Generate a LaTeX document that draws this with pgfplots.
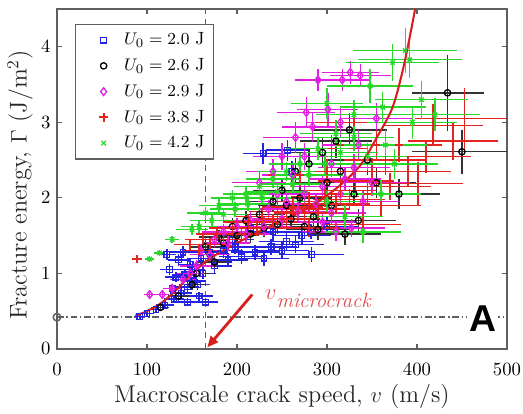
\documentclass[border=0pt]{standalone}
\usepackage{fontspec}
\usepackage{pgfplots}
\usepackage{pgfplotstable}
\pgfplotsset{compat=1.18}
\usetikzlibrary{arrows.meta}
\newfontfamily\arialf{Liberation Sans}
\definecolor{cblue}{RGB}{35,35,225}
\definecolor{cmag}{RGB}{225,30,225}
\definecolor{plusred}{RGB}{230,35,35}
\definecolor{cgreen}{RGB}{40,215,40}
\definecolor{cax}{RGB}{95,95,95}
\definecolor{ccurve}{RGB}{215,30,30}

\pgfplotstableread{
x y ex ey
92 0.43 6 0.03
100 0.47 8 0.04
110 0.52 9 0.04
120 0.58 10 0.05
130 0.66 11 0.05
138 0.74 12 0.06
145 0.82 13 0.06
152 0.90 14 0.07
158 0.70 15 0.06
165 0.62 14 0.05
132 0.95 12 0.07
125 1.05 11 0.07
122 1.25 10 0.07
135 1.18 12 0.08
148 1.12 14 0.08
160 1.20 16 0.08
175 1.10 20 0.09
190 1.18 22 0.09
205 1.22 25 0.10
220 1.28 27 0.10
238 1.35 29 0.11
255 1.42 31 0.11
272 1.50 33 0.12
282 1.55 33 0.10
283 1.25 36 0.10
300 1.62 36 0.12
215 1.60 26 0.12
229 2.59 22 0.14
256 2.63 24 0.14
261 2.35 28 0.14
128 0.80 10 0.06
142 0.98 12 0.07
150 1.05 14 0.08
156 0.85 14 0.07
162 1.00 15 0.08
145 0.62 12 0.05
170 1.28 20 0.09
185 1.30 22 0.10
198 1.35 24 0.10
230 1.20 28 0.10
250 1.30 30 0.11
265 1.38 32 0.11
140 1.28 14 0.08
195 1.45 24 0.11
240 1.55 30 0.12
}\tblue

\pgfplotstableread{
x y ex ey
115 0.55 10 0.05
135 0.70 12 0.06
155 1.00 15 0.08
170 1.25 20 0.10
185 1.40 22 0.10
200 1.50 24 0.12
215 1.52 26 0.12
230 1.60 28 0.12
245 1.65 30 0.13
260 1.72 32 0.13
275 1.62 34 0.13
290 1.58 36 0.14
305 1.90 38 0.15
320 1.52 40 0.14
335 1.70 42 0.15
250 2.10 32 0.15
265 2.35 34 0.18
280 2.45 36 0.20
295 2.60 38 0.20
310 2.75 40 0.22
325 2.90 42 0.22
345 2.50 44 0.20
450 2.61 55 0.29
434 3.39 40 0.50
380 2.05 46 0.20
355 2.20 44 0.20
240 1.95 30 0.14
150 0.85 14 0.07
165 1.35 18 0.09
180 1.48 22 0.10
195 1.62 24 0.11
210 1.70 26 0.12
225 1.78 28 0.12
255 1.90 32 0.14
270 2.00 34 0.15
285 1.75 36 0.14
300 2.20 38 0.16
315 2.35 40 0.18
330 2.05 42 0.16
175 1.15 20 0.09
}\tblack

\pgfplotstableread{
x y ex ey
103 0.72 6 0.04
117 0.72 8 0.04
140 0.92 14 0.07
155 1.10 18 0.08
170 1.25 22 0.09
190 1.40 25 0.10
210 1.52 28 0.11
230 1.62 30 0.12
250 1.72 32 0.12
268 1.82 34 0.13
288 1.92 36 0.14
305 1.80 38 0.14
327 1.60 38 0.12
340 1.95 40 0.15
245 2.05 32 0.15
262 2.30 34 0.16
275 2.55 36 0.18
265 2.80 36 0.20
277 3.13 32 0.20
284 2.94 34 0.20
301 3.17 34 0.22
315 3.00 38 0.20
335 2.70 40 0.20
290 3.56 26 0.15
317 3.56 30 0.15
326 3.66 32 0.15
337 3.62 34 0.15
305 2.45 38 0.18
320 2.25 40 0.16
225 2.20 30 0.15
355 3.05 40 0.20
128 0.80 10 0.05
148 1.00 15 0.07
160 1.30 18 0.09
175 1.45 22 0.10
185 1.55 24 0.10
200 1.62 26 0.11
215 1.70 28 0.12
235 1.85 30 0.12
255 1.95 32 0.13
275 2.05 34 0.14
295 2.15 36 0.15
315 2.05 38 0.15
250 2.55 32 0.18
240 2.35 30 0.16
330 2.40 40 0.18
350 2.20 42 0.18
295 1.68 36 0.13
310 1.55 38 0.12
}\tmag

\pgfplotstableread{
x y ex ey
89 1.19 6 0.04
148 1.38 18 0.08
162 1.45 20 0.08
178 1.52 24 0.09
195 1.60 26 0.10
212 1.68 28 0.10
228 1.75 30 0.11
245 1.82 32 0.12
262 1.88 34 0.12
280 1.95 36 0.13
298 2.02 38 0.14
315 2.10 40 0.15
332 2.22 42 0.16
350 2.35 44 0.18
365 2.50 46 0.20
380 2.70 48 0.22
401 2.19 50 0.28
418 2.96 55 0.28
453 3.05 55 0.40
440 2.75 50 0.25
340 1.65 42 0.15
305 2.65 40 0.18
330 3.00 42 0.20
270 2.30 36 0.14
360 1.90 44 0.16
158 1.30 18 0.08
170 1.38 20 0.09
185 1.45 22 0.09
205 1.52 24 0.10
222 1.60 26 0.10
240 1.68 28 0.11
255 1.72 30 0.12
275 1.80 34 0.12
290 1.85 36 0.13
310 1.92 38 0.14
325 1.98 40 0.14
345 2.05 42 0.15
370 2.15 46 0.18
390 2.35 48 0.20
410 2.55 50 0.22
355 2.70 46 0.20
300 2.35 38 0.16
280 1.60 34 0.12
}\tred

\pgfplotstableread{
x y ex ey
103 1.19 5 0.04
114 1.27 6 0.04
128 1.45 8 0.05
158 1.62 20 0.08
172 1.70 24 0.08
185 1.78 26 0.09
198 1.85 28 0.10
212 1.92 30 0.10
228 2.00 32 0.10
245 2.08 34 0.12
262 2.18 36 0.12
280 2.30 38 0.14
298 2.45 40 0.15
315 2.60 42 0.16
330 2.80 44 0.18
348 3.48 48 0.22
362 3.20 48 0.20
373 3.79 52 0.25
387 3.95 58 0.30
392 3.83 58 0.25
405 3.30 52 0.25
420 3.10 50 0.22
300 3.25 40 0.20
340 1.55 42 0.15
360 2.05 44 0.18
320 1.75 42 0.15
375 2.45 48 0.20
150 1.58 18 0.07
165 1.80 20 0.08
180 1.90 22 0.09
195 2.00 24 0.10
210 2.05 26 0.10
225 2.15 28 0.11
240 2.25 30 0.12
255 2.35 32 0.13
270 2.45 34 0.14
290 2.65 36 0.15
310 2.85 40 0.18
330 3.10 42 0.20
345 2.55 44 0.18
300 1.95 38 0.14
365 2.70 46 0.20
395 3.00 50 0.22
}\tgreen

\begin{document}
\begin{tikzpicture}
\useasboundingbox (-30.5pt,-34.8pt) rectangle (249.5pt,186.8pt);
\begin{axis}[
  at={(0pt,0pt)}, anchor=south west,
  scale only axis, width=240.9pt, height=182pt,
  xmin=0, xmax=500, ymin=0, ymax=4.5,
  xtick={0,100,...,500}, ytick={0,1,2,3,4},
  tick align=inside, major tick length=2.5pt,
  axis line style={cax, line width=0.7pt},
  tick style={cax, line width=0.6pt},
  xticklabel style={yshift=-4pt},
  tick label style={font=\normalsize},
  xlabel={Macroscale crack speed, $v$ (m/s)},
  ylabel={Fracture energy, $\Gamma$ (J/m$^2$)},
  label style={font=\fontsize{13}{15}\selectfont, color=black!85},
  xlabel style={at={(axis description cs:0.5,-0.085)}, anchor=north},
  ylabel style={at={(axis description cs:-0.082,0.482)}, anchor=center},
  legend style={at={(0.04,0.957)}, anchor=north west, draw=cax, fill=white,
    font=\fontsize{9.5}{11}\selectfont, row sep=1.8pt, inner xsep=3pt, inner ysep=2.5pt, line width=0.7pt},
  legend cell align=left,
  every axis plot/.append style={line width=0.8pt},
  legend image code/.code={\path[draw=none, fill=none] (0pt,0pt) -- (21pt,0pt); \draw[#1, only marks] plot coordinates {(12pt,0pt)};},
]
% reference lines
\addplot[forget plot, dashed, dash pattern=on 3.2pt off 2.4pt, cax, line width=0.8pt] coordinates {(165,0) (165,4.5)};
\addplot[forget plot, dash pattern=on 3.5pt off 1.5pt on 0.8pt off 1.5pt, cax, line width=0.8pt] coordinates {(0,0.42) (500,0.42)};

\addplot[cblue, only marks, mark=square, mark size=1.5pt, mark options={solid, line width=0.7pt},
  error bars/.cd, x dir=both, x explicit, y dir=both, y explicit, error mark=none,
  error bar style={cblue, line width=0.8pt}]
  table[x=x, y=y, x error=ex, y error=ey] {\tblue};
\addlegendentry{$U_0 = 2.0$ J}

\addplot[black, only marks, mark=o, mark size=1.7pt, mark options={solid, line width=0.7pt},
  error bars/.cd, x dir=both, x explicit, y dir=both, y explicit, error mark=none,
  error bar style={black!80, line width=0.8pt}]
  table[x=x, y=y, x error=ex, y error=ey] {\tblack};
\addlegendentry{$U_0 = 2.6$ J}

\addplot[cmag, only marks, mark=diamond, mark size=2.1pt, mark options={solid, line width=0.7pt},
  error bars/.cd, x dir=both, x explicit, y dir=both, y explicit, error mark=none,
  error bar style={cmag, line width=0.8pt}]
  table[x=x, y=y, x error=ex, y error=ey] {\tmag};
\addlegendentry{$U_0 = 2.9$ J}

\addplot[color=plusred, only marks, mark=+, mark size=2.1pt, mark options={solid, line width=0.8pt},
  legend image code/.code={\path[draw=none, fill=none] (0pt,0pt) -- (21pt,0pt);
    \draw[draw={rgb,255:red,230;green,35;blue,35}, line width=1pt, solid] (12pt,-2.3pt) -- (12pt,2.3pt) (9.7pt,0pt) -- (14.3pt,0pt);},
  error bars/.cd, x dir=both, x explicit, y dir=both, y explicit, error mark=none,
  error bar style={plusred, line width=0.8pt}]
  table[x=x, y=y, x error=ex, y error=ey] {\tred};
\addlegendentry{$U_0 = 3.8$ J}

\addplot[cgreen, only marks, mark=x, mark size=1.7pt, mark options={solid, line width=0.7pt},
  error bars/.cd, x dir=both, x explicit, y dir=both, y explicit, error mark=none,
  error bar style={cgreen, line width=0.8pt}]
  table[x=x, y=y, x error=ex, y error=ey] {\tgreen};
\addlegendentry{$U_0 = 4.2$ J}

% model curve
\addplot[forget plot, ccurve, line width=1.1pt, smooth, tension=0.5] coordinates {
 (87,0.44) (100,0.50) (115,0.60) (130,0.75) (145,0.94) (156,1.06) (167,1.17)
 (184,1.30) (200,1.40) (222,1.54) (240,1.64) (262,1.76) (280,1.87) (294,1.98)
 (315,2.17) (337,2.43) (355,2.79) (373,3.20) (386,3.78) (398,4.50)};

\addplot[forget plot, only marks, mark=o, mark size=2pt, cax, mark options={line width=0.8pt}] coordinates {(0,0.42)};

\draw[ccurve, line width=1.5pt, -{Triangle[length=6pt, width=5pt]}] (axis cs:217,0.72) -- (axis cs:167,0.02);
\node[anchor=base west, inner sep=0pt, text=ccurve!80] at (axis cs:231,0.65)
  {\fontsize{13}{15}\selectfont$v$\raisebox{-4pt}{\fontsize{11}{13}\selectfont\itshape microcrack}};
\node[fill=white, inner sep=1pt, font=\arialf\bfseries\fontsize{20}{22}\selectfont] at (axis cs:473,0.40) {A};
\end{axis}
\end{tikzpicture}
\end{document}
